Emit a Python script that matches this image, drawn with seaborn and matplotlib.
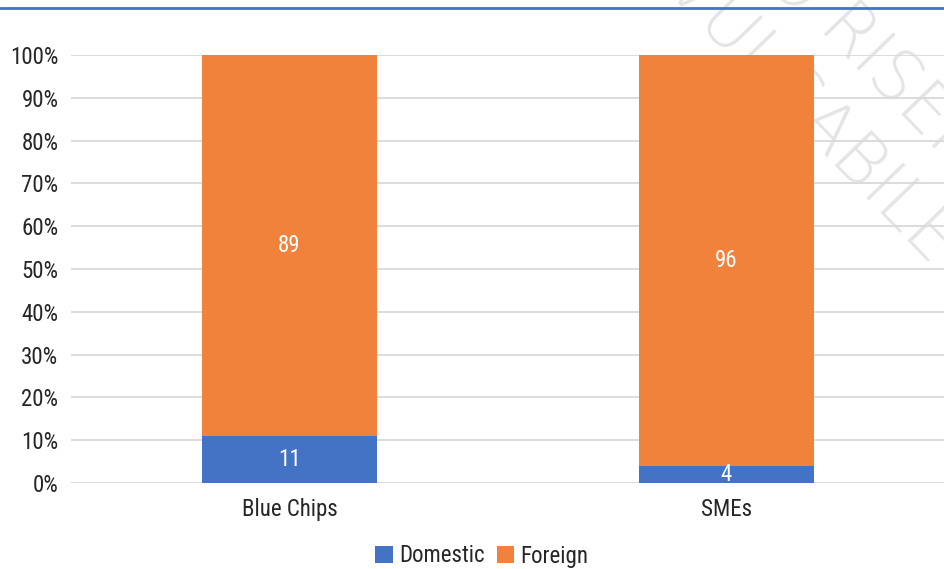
import matplotlib
matplotlib.use("Agg")
import matplotlib.pyplot as plt
import seaborn as sns
import pandas as pd
from matplotlib.patches import Patch
from matplotlib.lines import Line2D

categories = ["Blue Chips", "SMEs"]
domestic = [11, 4]
foreign = [89, 96]
series_names = ["Domestic", "Foreign"]
ytick_values = [0, 10, 20, 30, 40, 50, 60, 70, 80, 90, 100]
ytick_labels = [f"{v}%" for v in ytick_values]

BLUE = "#4472C4"
ORANGE = "#F0823C"
TEXT = "#262626"
FS = 16.5

sns.set_theme(style="white")
plt.rcParams["font.family"] = ["Roboto Condensed", "Liberation Sans", "DejaVu Sans"]

W, H = 945, 569
fig = plt.figure(figsize=(W / 100, H / 100), dpi=100)
ax = fig.add_axes([71 / W, 1 - 483 / H, 1 - 71 / W, (483 - 55) / H])
ax.set_facecolor("none")
ax.set_zorder(2)

df = pd.DataFrame({"category": categories, "domestic": domestic, "foreign": foreign})
df["total"] = df["domestic"] + df["foreign"]

sns.barplot(data=df, x="category", y="total", color=ORANGE, saturation=1,
            width=0.4, linewidth=0, ax=ax, zorder=3)
sns.barplot(data=df, x="category", y="domestic", color=BLUE, saturation=1,
            width=0.4, linewidth=0, ax=ax, zorder=3)

for i, (d, f) in enumerate(zip(domestic, foreign)):
    ax.text(i, d / 2, str(d), ha="center", va="center", color="white",
            fontsize=FS, zorder=5)
    ax.text(i, d + f / 2, str(f), ha="center", va="center", color="white",
            fontsize=FS, zorder=5)

ax.set_xlim(-0.5, 1.5)
ax.set_ylim(0, 100)
ax.set_yticks(ytick_values)
ax.set_yticklabels(ytick_labels)
ax.set_xlabel("")
ax.set_ylabel("")
ax.yaxis.grid(True, color="#D9D9D9", linewidth=1.3, zorder=0)
ax.xaxis.grid(False)
ax.set_axisbelow(True)
for s in ax.spines.values():
    s.set_visible(False)
ax.tick_params(axis="y", length=0, pad=9, labelsize=FS, labelcolor=TEXT)
ax.tick_params(axis="x", length=0, pad=11, labelsize=FS, labelcolor=TEXT)

# top rule
fig.add_artist(Line2D([0, 1], [1 - 8 / H, 1 - 8 / H], transform=fig.transFigure,
                      color=BLUE, linewidth=2, zorder=3))

# legend
handles = [Patch(facecolor=BLUE, edgecolor="none"), Patch(facecolor=ORANGE, edgecolor="none")]
fig.legend(handles, series_names, loc="center", bbox_to_anchor=(482 / W, 1 - 556 / H),
           ncol=2, frameon=False, fontsize=FS, handlelength=0.75, handleheight=0.75,
           handletextpad=0.3, columnspacing=0.5, labelcolor=TEXT)

# watermark (behind the plot)
wm = dict(transform=fig.transFigure, rotation=-46, rotation_mode="anchor",
          color="#E4E4E4", fontsize=50, family=["DejaVu Sans"],
          fontweight="light", va="center", zorder=0)
fig.text(828 / W, 1 - 20 / H, "RISERVATO", ha="left", **wm)
fig.text(828 / W, 1 - 20 / H, "DOCUMENTO ", ha="right", **wm)
fig.text(945 / W, 1 - 252 / H, "NON DIVULGABILE", ha="right", **wm)

fig.savefig("out.png", dpi=100)
